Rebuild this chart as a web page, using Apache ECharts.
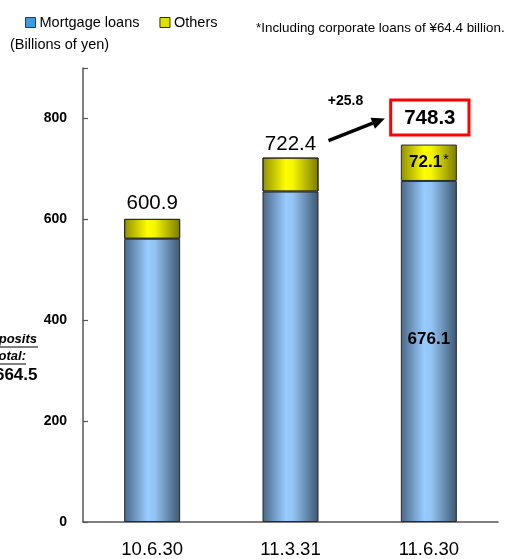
<!DOCTYPE html>
<html>
<head>
<meta charset="utf-8">
<script src="https://cdn.jsdelivr.net/npm/echarts@6/dist/echarts.min.js"></script>
<style>
  html, body { margin: 0; padding: 0; background: #fff; }
  #chart { width: 506px; height: 559px; }
</style>
</head>
<body>
<div id="chart"></div>
<script>
// Loan balances by period end (billions of yen)
const categories = ['10.6.30', '11.3.31', '11.6.30'];
const mortgageLoans = [561.5, 655.0, 676.1];
const otherLoans = [39.4, 67.4, 72.1];
const totalLabels = ['600.9', '722.4', '748.3'];
const yTicks = [0, 200, 400, 600, 800];
const changeLabel = '+25.8';
const depositsTotal = '664.5';

const FONT = 'Liberation Sans, Arial, sans-serif';

const blueGrad = new echarts.graphic.LinearGradient(0, 0, 1, 0, [
  { offset: 0, color: '#4a6787' },
  { offset: 0.42, color: '#99ccff' },
  { offset: 0.55, color: '#92c3f2' },
  { offset: 1, color: '#3d5670' }
]);
const yellowGrad = new echarts.graphic.LinearGradient(0, 0, 1, 0, [
  { offset: 0, color: '#8f8f00' },
  { offset: 0.42, color: '#ffff00' },
  { offset: 0.55, color: '#f5f500' },
  { offset: 1, color: '#7a7a00' }
]);

const chart = echarts.init(document.getElementById('chart'), null, { renderer: 'canvas' });

const option = {
  animation: false,
  grid: { left: 83, right: 8, top: 68, bottom: 36 },
  legend: {
    left: 20, top: 10,
    itemWidth: 10, itemHeight: 10, itemGap: 20,
    icon: 'rect',
    textStyle: { fontFamily: FONT, fontSize: 14.5, color: '#000', padding: [0, 0, 0, -1] },
    data: [
      { name: 'Mortgage loans', itemStyle: { color: '#3d9be0', borderColor: '#1f3f5f', borderWidth: 1 } },
      { name: 'Others', itemStyle: { color: '#e0e000', borderColor: '#333300', borderWidth: 1 } }
    ]
  },
  xAxis: {
    type: 'category',
    data: categories,
    axisLine: { lineStyle: { color: '#555', width: 1.5 } },
    axisTick: { inside: true, length: 6, lineStyle: { color: '#555', width: 1.2 } },
    axisLabel: { fontFamily: FONT, fontSize: 18.5, color: '#000', margin: 18 }
  },
  yAxis: {
    type: 'value',
    min: 0, max: 900, interval: 200,
    splitLine: { show: false },
    axisLine: { show: true, lineStyle: { color: '#555', width: 1.5 } },
    axisTick: { show: true, inside: true, length: 5, lineStyle: { color: '#555', width: 1.2 } },
    axisLabel: {
      fontFamily: FONT, fontSize: 14, fontWeight: 'bold', color: '#000', margin: 16,
      formatter: v => (yTicks.includes(v) ? String(v) : '')
    }
  },
  series: [
    {
      name: 'Mortgage loans',
      type: 'bar',
      stack: 'loans',
      barWidth: 56,
      data: mortgageLoans,
      itemStyle: { color: blueGrad, borderColor: '#2a2a2a', borderWidth: 1 },
      label: {
        show: true,
        position: 'inside',
        offset: [0, -12],
        fontFamily: FONT, fontSize: 17, fontWeight: 'bold', color: '#000',
        formatter: p => (p.dataIndex === 2 ? p.value.toFixed(1) : '')
      }
    },
    {
      name: 'Others',
      type: 'bar',
      stack: 'loans',
      barWidth: 56,
      data: otherLoans.map((v, i) => ({
        value: v,
        label: i === 2 ? {
          show: true,
          position: 'inside',
          formatter: '{b|' + v.toFixed(1) + '}{s|*}',
          rich: {
            b: { fontFamily: FONT, fontSize: 17, fontWeight: 'bold', color: '#000' },
            s: { fontFamily: FONT, fontSize: 14, color: '#000', verticalAlign: 'top', padding: [0, 0, 6, 1] }
          }
        } : { show: false }
      })),
      itemStyle: { color: yellowGrad, borderColor: '#2a2a2a', borderWidth: 1 }
    },
    {
      // Totals shown above each stacked bar
      name: 'Total',
      type: 'bar',
      stack: 'loans',
      barWidth: 56,
      data: categories.map(() => 0),
      itemStyle: { color: 'transparent' },
      silent: true,
      label: {
        show: true,
        position: 'top',
        formatter: p => (p.dataIndex === 2 ? '{box|' + totalLabels[2] + '}' : '{n|' + totalLabels[p.dataIndex] + '}'),
        rich: {
          n: { fontFamily: FONT, fontSize: 20.5, color: '#000' },
          box: {
            fontFamily: FONT, fontSize: 20.5, fontWeight: 'bold', color: '#000',
            borderColor: '#ff0000', borderWidth: 3, backgroundColor: '#fff',
            padding: [6, 12, 5, 12]
          }
        },
        distance: 5
      },
      labelLayout: p => (p.dataIndex === 2 ? { dx: 1, dy: -6 } : p.dataIndex === 1 ? { dy: 2 } : {})
    }
  ]
};

chart.setOption(option);

// Change arrow between the last two periods, plus left-side deposits note
const toPx = v => chart.convertToPixel({ xAxisIndex: 0, yAxisIndex: 0 }, v);
const p1 = toPx([1, 756]);
const p2 = toPx([2, 800]);
const startX = p1[0] + 38, startY = p1[1];
const endX = p2[0] - 44, endY = p2[1];
const ang = Math.atan2(endY - startY, endX - startX);
const headLen = 13, headW = 6;
const bx = endX - headLen * Math.cos(ang), by = endY - headLen * Math.sin(ang);
const lblPos = toPx([1, 834]);

chart.setOption({
  graphic: [
    {
      type: 'line',
      shape: { x1: startX, y1: startY, x2: bx, y2: by },
      style: { stroke: '#000', lineWidth: 3.5 }
    },
    {
      type: 'polygon',
      shape: {
        points: [
          [endX, endY],
          [bx + headW * Math.sin(ang), by - headW * Math.cos(ang)],
          [bx - headW * Math.sin(ang), by + headW * Math.cos(ang)]
        ]
      },
      style: { fill: '#000' }
    },
    {
      type: 'text',
      x: lblPos[0] + 55, y: lblPos[1],
      style: {
        text: changeLabel, fontFamily: FONT, fontSize: 14, fontWeight: 'bold',
        fill: '#000', align: 'center', verticalAlign: 'middle'
      }
    },
    {
      type: 'text', x: 256, y: 28,
      style: { text: '*Including corporate loans of ¥64.4 billion.', fontFamily: FONT, fontSize: 13.4,
               fill: '#000', verticalAlign: 'middle' }
    },
    {
      type: 'text', x: 10, y: 45,
      style: { text: '(Billions of yen)', fontFamily: FONT, fontSize: 14.5, fill: '#000', verticalAlign: 'middle' }
    },
    {
      type: 'text', x: 37, y: 339,
      style: { text: 'Deposits', fontFamily: FONT, fontSize: 13, fontWeight: 'bold', fontStyle: 'italic',
               fill: '#000', align: 'right', verticalAlign: 'middle' }
    },
    { type: 'line', shape: { x1: -30, y1: 347, x2: 38, y2: 347 }, style: { stroke: '#000', lineWidth: 1 } },
    {
      type: 'text', x: 26, y: 356,
      style: { text: 'total:', fontFamily: FONT, fontSize: 13, fontWeight: 'bold', fontStyle: 'italic',
               fill: '#000', align: 'right', verticalAlign: 'middle' }
    },
    { type: 'line', shape: { x1: -10, y1: 364, x2: 26, y2: 364 }, style: { stroke: '#000', lineWidth: 1 } },
    {
      type: 'text', x: 37.5, y: 375,
      style: { text: depositsTotal, fontFamily: FONT, fontSize: 17, fontWeight: 'bold',
               fill: '#000', align: 'right', verticalAlign: 'middle' }
    }
  ]
});
</script>
</body>
</html>
